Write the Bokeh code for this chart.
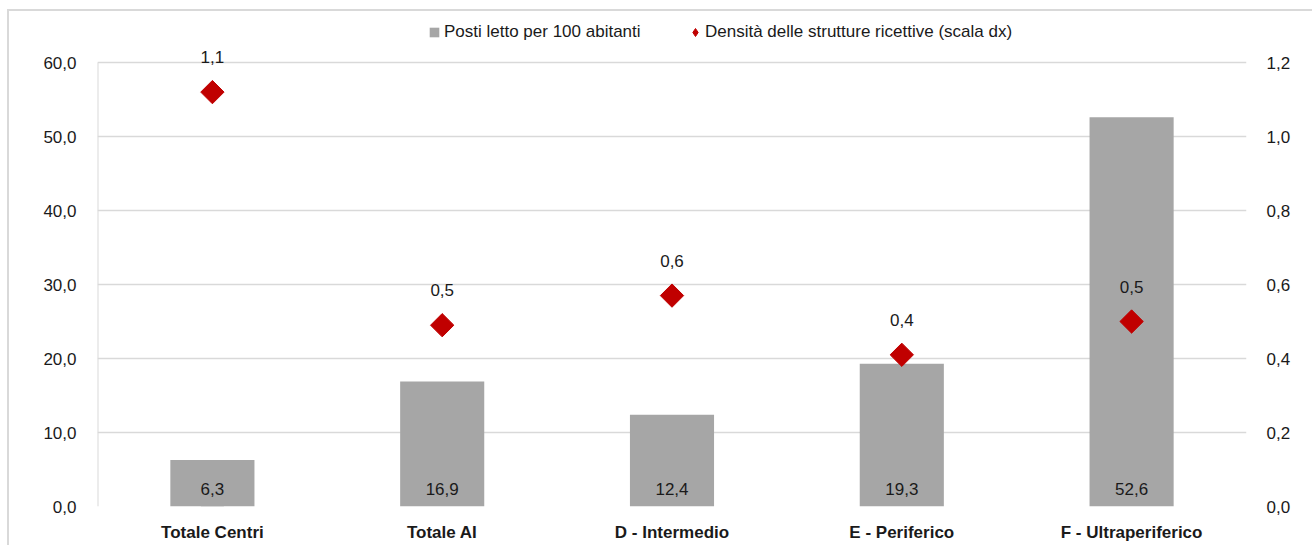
import math
from bokeh.plotting import figure
from bokeh.models import (Range1d, LinearAxis, CustomJSTickFormatter, ColumnDataSource,
                          Legend, LegendItem, FixedTicker)
from bokeh.core.properties import value
from bokeh.embed import file_html
from bokeh.resources import INLINE

categories = ["Totale Centri", "Totale AI", "D - Intermedio", "E - Periferico", "F - Ultraperiferico"]
posti_letto = [6.3, 16.9, 12.4, 19.3, 52.6]
densita = [1.12, 0.49, 0.57, 0.41, 0.50]
left_ticks = [0, 10, 20, 30, 40, 50, 60]
right_ticks = [0.0, 0.2, 0.4, 0.6, 0.8, 1.0, 1.2]
series_names = ["Posti letto per 100 abitanti", "Densità delle strutture ricettive (scala dx)"]

FONT = "Liberation Sans"
GREY = "#a6a6a6"
RED = "#c00000"
GRID = "#d9d9d9"
TXT = "#1a1a1a"

# frame geometry (screen px): frame extended upward so the legend and top labels are not clipped
FRAME_TOP, LINE60, FRAME_BOTTOM = 14, 62, 506
EXT = (FRAME_BOTTOM - FRAME_TOP) / (FRAME_BOTTOM - LINE60)

def fmt(v):
    return f"{v:.1f}".replace(".", ",")

src = ColumnDataSource(dict(
    cat=categories,
    posti=posti_letto,
    dens=densita,
    base=[0 for _ in posti_letto],
    posti_lbl=[fmt(v) for v in posti_letto],
    dens_lbl=[fmt(v) for v in densita],
))

p = figure(x_range=categories, y_range=Range1d(0, left_ticks[-1] * EXT), width=1305, height=536,
           output_backend="svg", toolbar_location=None,
           min_border_left=88, min_border_right=68, min_border_top=3, min_border_bottom=41)
p.extra_y_ranges = {"right": Range1d(0, right_ticks[-1] * EXT)}
p.styles = {"border-left": "2px solid #d9d9d9", "border-top": "2px solid #d9d9d9",
            "margin-left": "7px", "margin-top": "9px"}
p.outline_line_color = None
p.background_fill_color = "white"
p.border_fill_color = "white"

# left axis line only from 0 to 60
p.segment(x0=[0], x1=[0], y0=[left_ticks[0]], y1=[left_ticks[-1]], line_color=GRID, line_width=2)

bars = p.vbar(x="cat", top="posti", width=0.366, source=src, fill_color=GREY, line_color=None)
p.text(x="cat", y="base", text="posti_lbl", source=src, text_align="center", text_baseline="middle",
       y_offset=-18, text_font=value(FONT), text_font_size="17px", text_color=TXT)

pts = p.scatter(x="cat", y="dens", source=src, y_range_name="right", marker="square",
                angle=math.pi / 4, size=16.5, fill_color=RED, line_color=RED)
p.text(x="cat", y="dens", text="dens_lbl", source=src, y_range_name="right", text_align="center",
       text_baseline="middle", y_offset=-35, text_font=value(FONT), text_font_size="17px",
       text_color=TXT)

# legend-only renderers (kept far outside the visible range)
dummy = ColumnDataSource(dict(cat=[categories[0]], y=[-1000]))
leg_sq = p.vbar(x="cat", top="y", width=0.1, source=dummy, fill_color=GREY, line_color=None)
leg_di = p.scatter(x="cat", y="y", source=dummy, marker="diamond", size=8,
                   fill_color=RED, line_color=RED)

common = dict(orientation="horizontal", label_text_font=FONT, label_text_font_size="17px",
              label_text_color=TXT, border_line_color=None, background_fill_alpha=0,
              padding=4, margin=0)
legend1 = Legend(items=[LegendItem(label=series_names[0], renderers=[leg_sq])],
                 location=(331, 464), glyph_width=12, glyph_height=12, label_standoff=4, **common)
legend2 = Legend(items=[LegendItem(label=series_names[1], renderers=[leg_di])],
                 location=(588, 464), glyph_width=20, glyph_height=20, label_standoff=0, **common)
p.add_layout(legend1, "center")
p.add_layout(legend2, "center")

def style_axis(ax, standoff):
    ax.axis_line_color = None
    ax.major_tick_line_color = None
    ax.minor_tick_line_color = None
    ax.major_tick_out = 0
    ax.major_tick_in = 0
    ax.minor_tick_out = 0
    ax.minor_tick_in = 0
    ax.major_label_standoff = standoff
    ax.major_label_text_font = FONT
    ax.major_label_text_font_size = "17px"
    ax.major_label_text_color = TXT

# left axis
ya = p.yaxis[0]
ya.ticker = FixedTicker(ticks=left_ticks)
ya.formatter = CustomJSTickFormatter(code="return tick.toFixed(1).replace('.', ',');")
style_axis(ya, 21)

# right axis
ra = LinearAxis(y_range_name="right", ticker=FixedTicker(ticks=right_ticks),
                formatter=CustomJSTickFormatter(code="return tick.toFixed(1).replace('.', ',');"))
style_axis(ra, 20)
p.add_layout(ra, "right")

# x axis
xa = p.xaxis[0]
style_axis(xa, 16)
xa.major_label_text_font_style = "bold"

p.xgrid.grid_line_color = None
p.ygrid.ticker = FixedTicker(ticks=left_ticks)
p.ygrid.grid_line_color = GRID
p.ygrid.grid_line_width = 1.5

open("out.html", "w").write(file_html(p, INLINE))
